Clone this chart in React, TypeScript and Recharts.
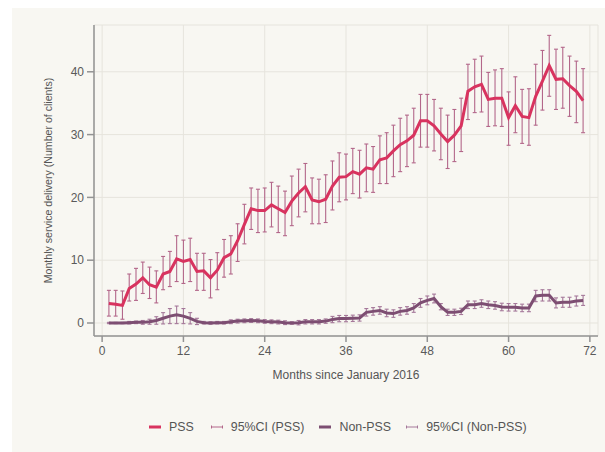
import React from 'react';
import { ComposedChart, Line, XAxis, YAxis, CartesianGrid, ErrorBar, Label } from 'recharts';

const months = [
  1, 2, 3, 4, 5, 6, 7, 8, 9, 10, 11, 12, 13, 14, 15, 16, 17, 18, 19, 20, 21, 22, 23, 24,
  25, 26, 27, 28, 29, 30, 31, 32, 33, 34, 35, 36, 37, 38, 39, 40, 41, 42, 43, 44, 45, 46, 47, 48,
  49, 50, 51, 52, 53, 54, 55, 56, 57, 58, 59, 60, 61, 62, 63, 64, 65, 66, 67, 68, 69, 70, 71,
];

const pss = [
  3.1, 3.0, 2.8, 5.5, 6.2, 7.2, 6.1, 5.7, 7.8, 8.2, 10.2, 9.8, 10.1, 8.2, 8.3, 7.2, 8.4, 10.4, 11.0, 13.1, 15.7, 18.2, 17.9, 17.9,
  18.8, 18.2, 17.6, 19.4, 20.7, 21.7, 19.6, 19.3, 19.7, 21.8, 23.2, 23.3, 24.1, 23.7, 24.7, 24.5, 26.0, 26.3, 27.4, 28.4, 29.0, 29.9, 32.2, 32.2,
  31.4, 30.1, 28.9, 29.9, 31.4, 36.9, 37.6, 38.0, 35.6, 35.8, 35.8, 32.7, 34.6, 32.9, 32.7, 36.1, 38.5, 41.0, 38.8, 38.9, 37.8, 36.9, 35.4,
];

const pssLo = [
  1.1, 1.1, 0.6, 3.5, 3.6, 4.7, 3.9, 3.2, 5.3, 5.8, 6.6, 6.3, 6.6, 5.2, 5.2, 4.0, 5.3, 7.3, 7.8, 9.8, 12.6, 14.9, 14.4, 14.5,
  15.3, 14.4, 13.9, 15.5, 16.9, 17.7, 15.8, 15.8, 16.0, 18.0, 19.3, 19.6, 20.6, 19.9, 20.9, 20.8, 22.2, 22.2, 23.3, 24.1, 24.9, 25.5, 28.0, 28.0,
  27.4, 26.0, 24.6, 25.7, 27.3, 32.4, 33.5, 33.6, 31.3, 31.4, 31.3, 28.3, 30.3, 28.6, 28.3, 31.5, 33.9, 36.1, 34.0, 34.2, 32.9, 31.9, 30.3,
];

const pssHi = [
  5.2, 5.2, 5.1, 7.8, 8.7, 9.7, 8.9, 8.3, 10.6, 11.4, 13.9, 13.2, 13.5, 11.1, 11.1, 10.1, 11.2, 13.3, 13.9, 15.8, 18.9, 21.5, 21.3, 21.5,
  22.4, 21.8, 21.0, 23.4, 24.5, 25.4, 23.1, 22.9, 23.6, 25.8, 27.1, 26.9, 27.8, 27.5, 28.5, 28.1, 29.8, 30.3, 31.5, 32.6, 33.1, 34.2, 36.4, 36.4,
  35.6, 34.2, 33.1, 34.0, 35.8, 41.2, 42.0, 42.5, 39.9, 40.3, 40.5, 36.8, 39.2, 37.2, 37.3, 41.2, 43.4, 45.8, 43.6, 43.9, 42.5, 41.7, 40.5,
];

const nonPss = [
  0.0, 0.0, 0.0, 0.05, 0.1, 0.1, 0.2, 0.4, 0.75, 1.1, 1.3, 1.1, 0.75, 0.25, 0.05, 0.0, 0.05, 0.05, 0.2, 0.3, 0.35, 0.4, 0.35, 0.25,
  0.2, 0.15, 0.05, 0.0, 0.05, 0.2, 0.2, 0.2, 0.3, 0.55, 0.7, 0.7, 0.75, 0.8, 1.7, 1.85, 2.0, 1.6, 1.5, 1.85, 2.0, 2.4, 3.2, 3.6,
  3.9, 2.6, 1.7, 1.7, 1.85, 2.9, 2.9, 3.1, 2.9, 2.8, 2.55, 2.5, 2.5, 2.4, 2.4, 4.3, 4.4, 4.4, 3.2, 3.3, 3.3, 3.5, 3.6,
];

const nonPssErr = [
  0.1, 0.1, 0.1, 0.2, 0.2, 0.3, 0.4, 0.6, 0.9, 1.2, 1.4, 1.2, 0.9, 0.5, 0.2, 0.2, 0.2, 0.2, 0.3, 0.3, 0.3, 0.3, 0.3, 0.3,
  0.3, 0.3, 0.3, 0.2, 0.35, 0.35, 0.35, 0.35, 0.35, 0.5, 0.5, 0.5, 0.5, 0.5, 0.6, 0.6, 0.6, 0.6, 0.6, 0.6, 0.6, 0.7, 0.7, 0.7,
  0.7, 0.5, 0.5, 0.5, 0.5, 0.6, 0.6, 0.6, 0.6, 0.6, 0.6, 0.6, 0.6, 0.6, 0.6, 0.9, 0.9, 0.9, 0.8, 0.8, 0.8, 0.8, 0.8,
];

const xTicks = [0, 12, 24, 36, 48, 60, 72];
const yTicks = [0, 10, 20, 30, 40];

const PSS_COLOR = '#d8335f';
const PSS_CI_COLOR = '#b3678a';
const NON_COLOR = '#7d4e72';
const NON_CI_COLOR = '#a5789a';

const legendItems = [
  { label: 'PSS', color: PSS_COLOR, thick: true },
  { label: '95%CI (PSS)', color: PSS_CI_COLOR, thick: false },
  { label: 'Non-PSS', color: NON_COLOR, thick: true },
  { label: '95%CI (Non-PSS)', color: NON_CI_COLOR, thick: false },
];

const data = months.map((m, i) => ({
  month: m,
  pss: pss[i],
  pssErr: [pss[i] - pssLo[i], pssHi[i] - pss[i]],
  nonPss: nonPss[i],
  nonPssErr: nonPssErr[i],
}));

const FONT = '"Liberation Sans", Arial, Helvetica, sans-serif';
const AXIS_COLOR = '#939393';

export default function App() {
  return (
    <div style={{ position: 'fixed', left: 0, top: 0, width: 605, height: 452, background: '#ffffff', fontFamily: FONT }}>
      <div style={{ position: 'absolute', left: 12, top: 8, width: 593, height: 444, background: '#f8f7f2' }} />
      <div style={{ position: 'absolute', left: 0, top: 0 }}>
        <ComposedChart width={605} height={452} data={data} margin={{ top: 25, right: 7, bottom: 66, left: 0 }}>
          <CartesianGrid stroke="#e6e4dd" strokeWidth={1} fill="#f8f7f2" />
          <XAxis
            type="number"
            dataKey="month"
            domain={[-1.2, 73.2]}
            ticks={xTicks}
            allowDataOverflow
            interval={0}
            height={50}
            tickSize={6}
            tickMargin={4}
            stroke={AXIS_COLOR}
            strokeWidth={1.5}
            tick={{ fill: '#5a5a5a', fontSize: 12, fontFamily: FONT }}
          >
            <Label value="Months since January 2016" position="insideBottom" offset={7} fill="#555" fontSize={12} fontFamily={FONT} />
          </XAxis>
          <YAxis
            type="number"
            domain={[-2.07, 47.45]}
            ticks={yTicks}
            allowDataOverflow
            interval={0}
            width={94}
            tickSize={7}
            tickMargin={3}
            stroke={AXIS_COLOR}
            strokeWidth={1.5}
            tick={{ fill: '#5a5a5a', fontSize: 12, fontFamily: FONT }}
          >
            <Label value="Monthly service delivery (Number of clients)" angle={-90} position="center" dx={1} fill="#555" fontSize={10.6} fontFamily={FONT} />
          </YAxis>
          <Line dataKey="pss" stroke="none" dot={false} activeDot={false} isAnimationActive={false} legendType="none">
            <ErrorBar dataKey="pssErr" direction="y" width={2} stroke={PSS_CI_COLOR} strokeWidth={1.1} isAnimationActive={false} />
          </Line>
          <Line dataKey="pss" stroke={PSS_COLOR} strokeWidth={3} dot={false} activeDot={false} isAnimationActive={false} />
          <Line dataKey="nonPss" stroke="none" dot={false} activeDot={false} isAnimationActive={false} legendType="none">
            <ErrorBar dataKey="nonPssErr" direction="y" width={2} stroke={NON_CI_COLOR} strokeWidth={1.1} isAnimationActive={false} />
          </Line>
          <Line dataKey="nonPss" stroke={NON_COLOR} strokeWidth={3} dot={false} activeDot={false} isAnimationActive={false} />
        </ComposedChart>
      </div>
      <div style={{ position: 'absolute', left: 149, top: 419, display: 'flex', alignItems: 'center', height: 16, fontSize: 12.4, color: '#555', whiteSpace: 'nowrap' }}>
        {legendItems.map((it, i) => (
          <div key={it.label} style={{ display: 'flex', alignItems: 'center', marginRight: i === 0 ? 17 : 15 }}>
            <svg width={12} height={8} style={{ marginRight: 8 }}>
              {it.thick ? (
                <line x1={0} y1={4} x2={12} y2={4} stroke={it.color} strokeWidth={3} />
              ) : (
                <g stroke={it.color} strokeWidth={1}>
                  <line x1={0.5} y1={4} x2={11.5} y2={4} />
                  <line x1={0.5} y1={2.5} x2={0.5} y2={5.5} />
                  <line x1={11.5} y1={2.5} x2={11.5} y2={5.5} />
                </g>
              )}
            </svg>
            <span>{it.label}</span>
          </div>
        ))}
      </div>
    </div>
  );
}
